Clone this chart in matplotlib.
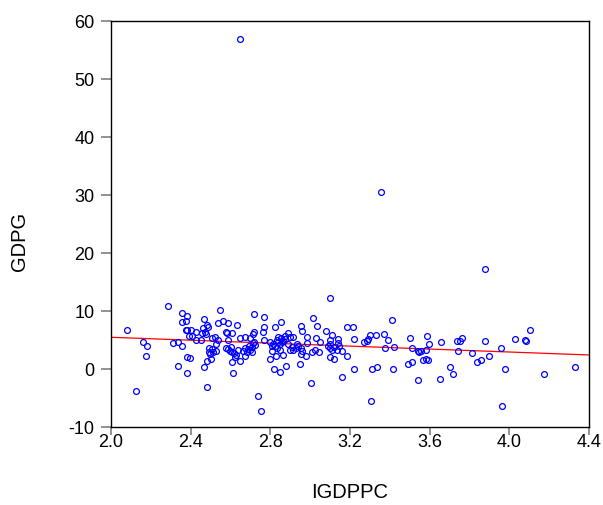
import matplotlib
matplotlib.use("Agg")
import matplotlib.pyplot as plt
import numpy as np

plt.rcParams['font.family'] = ['Liberation Sans', 'DejaVu Sans']

igdppc = [
    2.080, 2.127, 2.159, 2.182, 2.174, 2.286, 2.358, 2.380, 2.355, 2.377, 2.375, 2.313, 2.338, 2.355,
    2.336, 2.382, 2.380, 2.393,
    2.546, 2.468, 2.539, 2.562, 2.587, 2.634, 2.718, 2.770, 2.768, 2.763, 2.383, 2.402, 2.425, 2.405,
    2.455, 2.463, 2.483, 2.485, 2.472, 2.479, 2.428, 2.450, 2.505, 2.522, 2.539, 2.526, 2.577, 2.584,
    2.606, 2.589, 2.648, 2.673, 2.698, 2.711, 2.719, 2.770, 2.719, 2.492, 2.505, 2.493, 2.513, 2.497,
    2.526, 2.480, 2.502, 2.468, 2.395, 2.483, 2.576, 2.586, 2.601, 2.596, 2.606, 2.619, 2.628, 2.639,
    2.622, 2.606, 2.648, 2.614, 2.664, 2.673, 2.686, 2.681, 2.694, 2.698, 2.706, 2.714, 2.723, 2.706,
    2.673, 2.736, 2.751, 2.798,
    3.099, 2.852, 2.822, 2.954, 2.957, 3.016, 3.036, 3.078, 3.108, 3.183, 2.982, 3.029, 3.049, 3.099,
    3.099, 3.141, 3.141, 2.890, 2.873, 2.840, 2.853, 2.832, 2.865, 2.873, 2.899, 2.915, 2.798, 2.807,
    2.815, 2.823, 2.840, 2.848, 2.857, 2.807, 2.832, 2.848, 2.890, 2.907, 2.899, 2.915, 2.927, 2.940,
    2.932, 2.954, 2.954, 2.977, 2.957, 2.982, 3.007, 3.024, 3.044, 3.091, 3.099, 3.108, 3.121, 3.133,
    3.144, 3.158, 3.183, 3.099, 3.119, 2.828, 2.865, 2.818, 2.848, 2.878, 2.949, 3.004, 3.161,
    3.215, 3.411, 3.221, 3.300, 3.330, 3.369, 3.389, 3.289, 3.284, 3.270, 3.503, 3.585, 3.598, 3.376,
    3.423, 3.509, 3.539, 3.546, 3.556, 3.581, 3.221, 3.309, 3.334, 3.417, 3.492, 3.509, 3.568, 3.580,
    3.593, 3.541, 3.304,
    3.658, 3.737, 3.752, 3.761, 3.878, 3.959, 3.744, 3.814, 3.899, 3.839, 3.857, 3.703, 3.718, 3.653,
    3.979, 3.961,
    4.030, 4.078, 4.082, 4.105, 4.174, 4.329,
    2.648, 3.355, 3.877,
]

gdpg = [
    6.66, -3.84, 4.70, 3.90, 2.24, 10.9, 9.64, 9.18, 8.15, 8.20, 6.71, 4.47, 4.59, 3.96,
    0.46, 2.00, -0.69, 5.60,
    10.2, 8.60, 8.00, 8.30, 7.97, 7.50, 9.40, 8.95, 7.17, 6.42, 6.77, 6.66, 6.37, 5.62,
    6.20, 7.00, 7.57, 7.29, 6.31, 6.00, 5.05, 5.05, 5.28, 5.45, 5.00, 4.30, 6.42, 6.14,
    6.14, 5.05, 5.28, 5.56, 5.34, 6.02, 6.30, 5.05, 4.59, 3.56, 3.44, 2.98, 2.87, 2.53,
    3.15, 1.43, 1.72, 0.34, 1.89, -3.04, 3.56, 3.44, 3.73, 3.10, 2.87, 2.75, 2.41, 3.27,
    2.12, 1.15, 1.43, -0.64, 3.15, 3.56, 3.44, 2.98, 4.01, 3.32, 2.87, 4.42, 4.18, 3.73,
    2.29, -4.59, -7.17, 1.72,
    12.2, 8.15, 7.29, 7.35, 6.54, 8.72, 7.46, 6.60, 5.85, 7.17, 5.56, 5.34, 4.70, 5.05,
    4.30, 5.16, 4.47, 6.20, 5.74, 5.45, 5.28, 5.05, 4.88, 5.16, 5.45, 5.45, 4.59, 4.01,
    4.30, 4.01, 4.59, 4.30, 4.59, 3.15, 3.56, 3.27, 4.30, 3.73, 3.32, 3.27, 3.56, 4.01,
    4.30, 3.56, 2.53, 2.29, 3.15, 4.47, 2.98, 3.32, 2.98, 4.01, 3.56, 3.32, 3.73, 3.32,
    4.01, 3.10, 2.29, 2.00, 1.66, 2.29, 2.41, 0.00, -0.57, 0.52, 0.92, -2.47, -1.38,
    7.17, 8.43, 5.16, 5.90, 5.90, 6.08, 5.05, 5.16, 4.88, 4.59, 5.28, 5.68, 4.30, 3.56,
    3.84, 3.67, 3.10, 2.87, 3.10, 3.32, 0.00, 0.00, 0.34, 0.00, 0.80, 1.20, 1.55, 1.72,
    1.55, -1.84, -5.51,
    4.59, 4.76, 4.76, 5.28, 4.88, 3.67, 3.15, 2.70, 2.24, 1.26, 1.49, 0.40, -0.86, -1.67,
    -0.05, -6.31,
    5.22, 4.99, 4.88, 6.71, -0.92, 0.40,
    56.9, 30.5, 17.2,
]

# fitted regression line (as in the reference)
fit_intercept = 8.00
fit_slope = -1.27
line_x = [2.0, 4.4]

x_ticks = [2.0, 2.4, 2.8, 3.2, 3.6, 4.0, 4.4]
y_ticks = [-10, 0, 10, 20, 30, 40, 50, 60]

fig = plt.figure(figsize=(6.03, 5.06), dpi=100)
ax = fig.add_axes([111/603, 1 - 428/506, 478/603, (428 - 21.7)/506])

lx = np.array(line_x)
ax.plot(lx, fit_intercept + fit_slope * lx, color='red', lw=0.9, zorder=2)
ax.plot(igdppc, gdpg, linestyle='none', marker='o', markersize=4.2,
        markerfacecolor='none', markeredgecolor='#0000FF', markeredgewidth=0.9, zorder=3)

ax.set_xlim(2.0, 4.4)
ax.set_ylim(-10, 60)
ax.set_xticks(x_ticks)
ax.set_xticklabels([f"{t:.1f}" for t in x_ticks])
ax.set_yticks(y_ticks)
ax.set_yticklabels([str(t) for t in y_ticks])

for s in ax.spines.values():
    s.set_color('black')
    s.set_linewidth(1.0)

ax.tick_params(axis='both', direction='out', width=1.2, color='#808080',
               labelsize=13, labelcolor='black')
ax.tick_params(axis='x', length=6, pad=-2)
ax.tick_params(axis='y', length=7, pad=5)

ax.set_xlabel('IGDPPC', fontsize=14.5)
ax.set_ylabel('GDPG', fontsize=14.5)
ax.xaxis.set_label_coords(0.5, -0.135)
ax.yaxis.set_label_coords(-0.172, 0.46)

fig.savefig('out.png', dpi=100)
